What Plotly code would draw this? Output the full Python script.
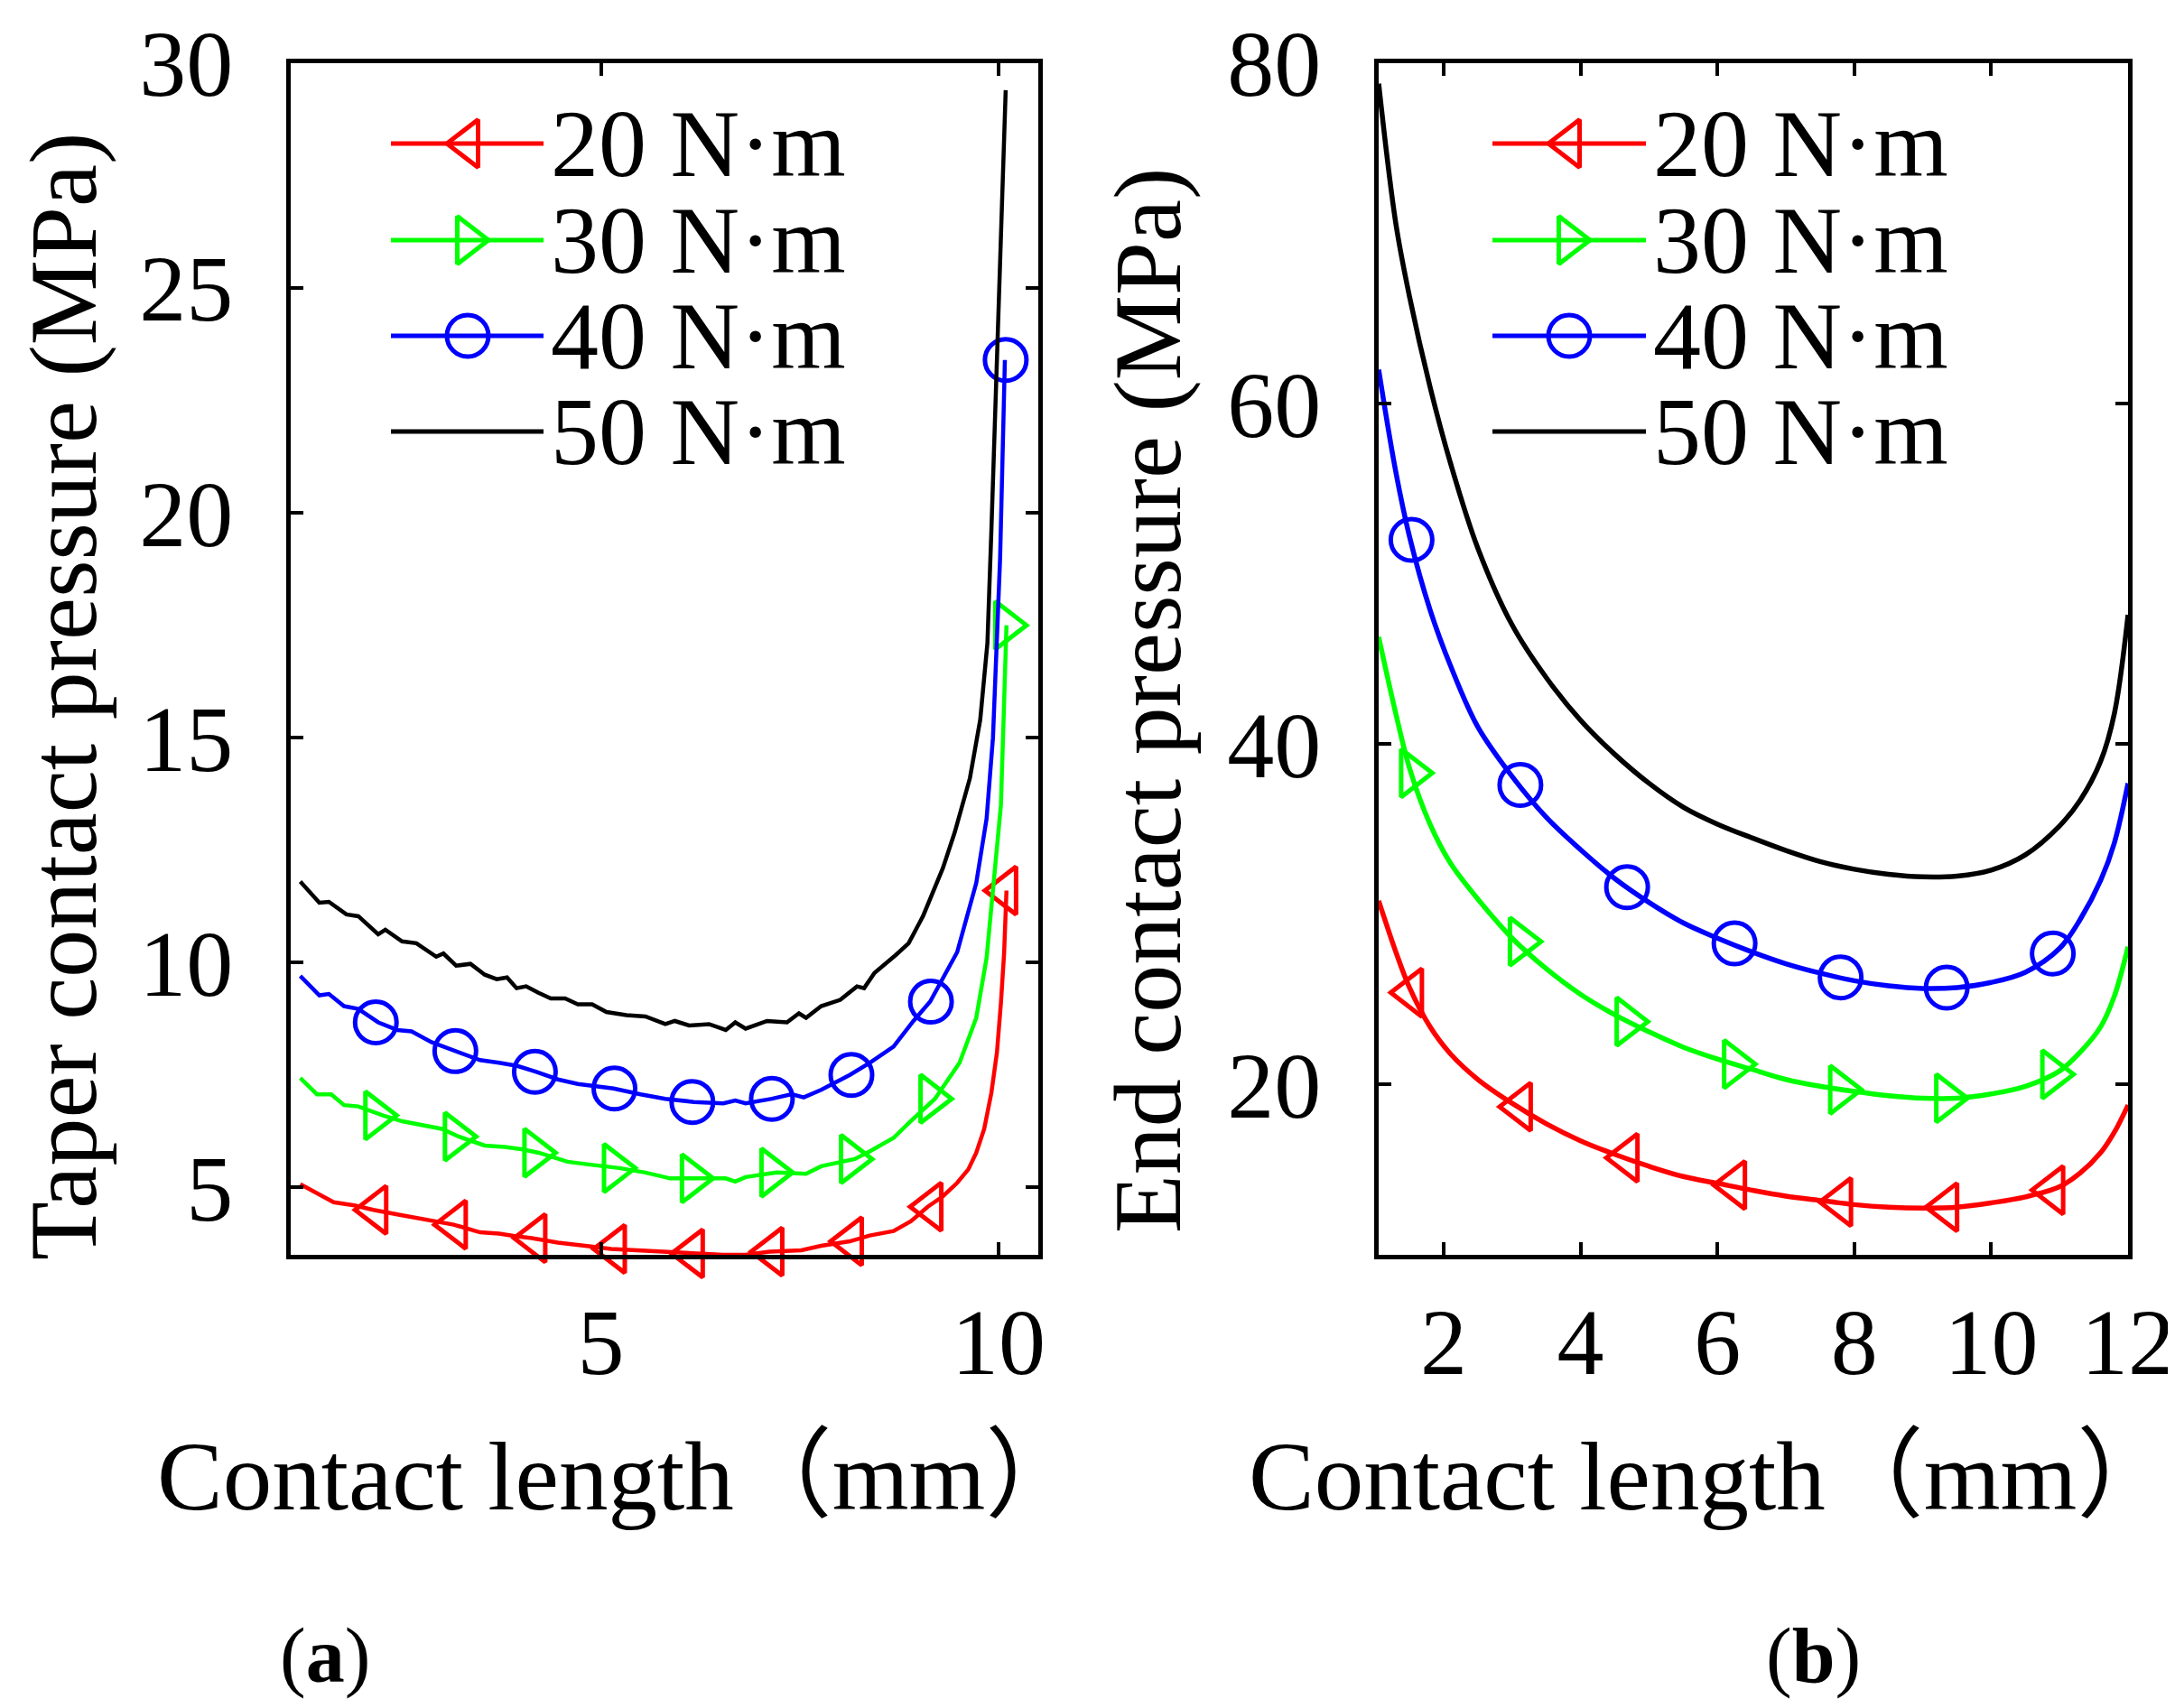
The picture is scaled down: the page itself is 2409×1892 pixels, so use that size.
import plotly.graph_objects as go

W, H = 2409, 1892
FONT = "Liberation Serif, Times New Roman, Noto Sans CJK SC, serif"

# ---- (a) taper contact pressure vs contact length ----
taper_x_20 = [1.22, 1.43, 1.64, 1.9, 2.14, 2.44, 2.74, 2.95, 3.15, 3.48, 3.72, 3.9, 4.13, 4.46,
              4.71, 4.9, 5.13, 5.5, 5.81, 6.11, 6.54, 6.82, 7.12, 7.52, 7.77, 8.13, 8.38, 8.68,
              8.9, 9.11, 9.3, 9.48, 9.62, 9.72, 9.82, 9.91, 9.98, 10.03, 10.07, 10.1]
taper_y_20 = [5.07, 4.87, 4.67, 4.6, 4.5, 4.4, 4.3, 4.25, 4.17, 4.0, 3.97, 3.92, 3.87, 3.77,
              3.73, 3.68, 3.63, 3.6, 3.57, 3.53, 3.5, 3.5, 3.57, 3.6, 3.7, 3.8, 3.93, 4.03,
              4.25, 4.57, 4.8, 5.1, 5.4, 5.77, 6.3, 7.1, 8.0, 9.1, 10.2, 11.6]

taper_x_30 = [1.22, 1.43, 1.61, 1.77, 1.95, 2.26, 2.5, 2.81, 3.0, 3.21, 3.54, 3.79, 4.0, 4.22,
              4.58, 4.89, 5.23, 5.56, 5.87, 6.23, 6.57, 6.69, 6.82, 7.21, 7.58, 7.77, 8.19,
              8.38, 8.68, 8.87, 9.2, 9.51, 9.72, 9.85, 9.97, 10.03, 10.06, 10.1]
taper_y_30 = [7.43, 7.07, 7.07, 6.83, 6.8, 6.6, 6.47, 6.37, 6.3, 6.13, 5.93, 5.9, 5.85, 5.77,
              5.57, 5.5, 5.43, 5.33, 5.2, 5.2, 5.2, 5.13, 5.23, 5.33, 5.3, 5.47, 5.63,
              5.8, 6.1, 6.43, 6.97, 7.77, 8.77, 10.1, 12.4, 13.5, 15.2, 17.5]

taper_x_40 = [1.22, 1.46, 1.58, 1.77, 1.95, 2.2, 2.44, 2.62, 2.87, 3.18, 3.48, 3.72, 3.95,
              4.19, 4.46, 4.71, 5.16, 5.5, 5.81, 6.17, 6.54, 6.69, 6.82, 7.15, 7.4, 7.55,
              7.77, 8.13, 8.38, 8.68, 8.93, 9.14, 9.48, 9.72, 9.85, 9.93, 10.02, 10.08]
taper_y_40 = [9.7, 9.27, 9.3, 9.03, 8.97, 8.67, 8.5, 8.47, 8.23, 8.03, 7.83, 7.77, 7.7,
              7.57, 7.4, 7.3, 7.2, 7.07, 6.97, 6.9, 6.87, 6.93, 6.87, 6.97, 7.07, 7.0,
              7.17, 7.5, 7.77, 8.13, 8.7, 9.13, 10.23, 11.77, 13.2, 15.0, 19.0, 23.4]

taper_x_50 = [1.22, 1.46, 1.58, 1.8, 1.95, 2.2, 2.29, 2.5, 2.68, 2.93, 3.02, 3.18, 3.36, 3.54,
              3.69, 3.82, 3.94, 4.06, 4.21, 4.37, 4.55, 4.71, 4.89, 5.07, 5.32, 5.56, 5.81,
              5.93, 6.11, 6.36, 6.57, 6.69, 6.82, 7.09, 7.34, 7.49, 7.58, 7.77, 8.01, 8.22,
              8.31, 8.44, 8.71, 8.87, 9.05, 9.3, 9.45, 9.64, 9.77, 9.86, 9.91, 9.96, 10.03, 10.09]
taper_y_50 = [11.8, 11.33, 11.35, 11.07, 11.03, 10.63, 10.73, 10.47, 10.43, 10.13, 10.2, 9.93,
              9.97, 9.73, 9.63, 9.67, 9.43, 9.47, 9.33, 9.2, 9.2, 9.07, 9.07, 8.9, 8.83, 8.8,
              8.63, 8.7, 8.6, 8.63, 8.5, 8.67, 8.53, 8.7, 8.67, 8.87, 8.77, 9.03, 9.17, 9.47,
              9.43, 9.77, 10.17, 10.43, 11.03, 12.1, 12.9, 14.1, 15.4, 17.1, 19.6, 22.2, 26.0, 29.4]

taper_mark_x = [2.17, 3.17, 4.17, 5.17, 6.15, 7.15, 8.15, 9.15, 10.09]
taper_mark_20 = [4.5, 4.17, 3.87, 3.63, 3.53, 3.57, 3.8, 4.57, 11.6]
taper_mark_30 = [6.6, 6.13, 5.77, 5.43, 5.2, 5.33, 5.63, 6.97, 17.5]
taper_mark_40 = [8.67, 8.03, 7.57, 7.2, 6.9, 6.97, 7.5, 9.13, 23.4]

# ---- (b) end contact pressure vs contact length ----
end_x = [1.05, 1.3, 1.5, 1.8, 2.1, 2.5, 3.0, 3.5, 4.0, 4.5, 5.0, 5.5, 6.0, 6.5, 7.0, 7.5,
         8.0, 8.5, 9.0, 9.5, 10.0, 10.5, 11.0, 11.3, 11.6, 11.8, 12.0]
end_20 = [30.8, 27.8, 25.7, 23.4, 21.8, 20.3, 18.9, 17.7, 16.7, 15.9, 15.2, 14.6, 14.2, 13.8,
          13.45, 13.2, 12.95, 12.8, 12.75, 12.8, 13.05, 13.4, 14.0, 14.8, 16.0, 17.2, 18.8]
end_30 = [46.3, 41.8, 38.6, 35.3, 33.0, 30.9, 28.6, 26.8, 25.3, 24.1, 23.1, 22.2, 21.5, 20.9,
          20.3, 19.9, 19.6, 19.35, 19.2, 19.2, 19.45, 19.9, 20.8, 21.9, 23.4, 25.2, 28.1]
end_40 = [62.0, 56.0, 52.2, 47.9, 44.6, 41.0, 38.1, 35.7, 33.8, 32.1, 30.7, 29.5, 28.6, 27.8,
          27.1, 26.55, 26.1, 25.8, 25.65, 25.7, 26.0, 26.6, 28.0, 29.7, 32.0, 34.2, 37.7]
end_50 = [78.8, 70.6, 66.3, 61.0, 56.5, 51.5, 47.0, 43.9, 41.4, 39.4, 37.7, 36.3, 35.3, 34.5,
          33.75, 33.1, 32.65, 32.35, 32.2, 32.25, 32.6, 33.5, 35.2, 36.7, 39.0, 41.8, 47.6]

end_mark_x = [1.53, 3.12, 4.68, 6.25, 7.8, 9.35, 10.9]
end_mark_20 = [25.4, 18.7, 15.7, 14.1, 13.1, 12.8, 13.8]
end_mark_30 = [38.3, 28.4, 23.7, 21.2, 19.7, 19.2, 20.6]
end_mark_40 = [52.0, 37.6, 31.6, 28.3, 26.3, 25.7, 27.7]

names = ["20 N·m", "30 N·m", "40 N·m", "50 N·m"]
colors = ["#ff0000", "#00ff00", "#0000ff", "#000000"]
symbols = ["triangle-left-open", "triangle-right-open", "circle-open", None]

MSIZE = 46
MLINE = 5

fig = go.Figure()


def add_series(xa, ya, x, y, mx, my, color, symbol, width, shape="linear"):
    fig.add_trace(go.Scatter(x=x, y=y, mode="lines", xaxis=xa, yaxis=ya,
                             line=dict(color=color, width=width, shape=shape),
                             showlegend=False, hoverinfo="skip"))
    if symbol is not None:
        fig.add_trace(go.Scatter(x=mx, y=my, mode="markers", xaxis=xa, yaxis=ya,
                                 cliponaxis=False, showlegend=False, hoverinfo="skip",
                                 marker=dict(symbol=symbol, size=MSIZE, color=color,
                                             line=dict(color=color, width=MLINE))))


taper = [(taper_x_20, taper_y_20, taper_mark_20), (taper_x_30, taper_y_30, taper_mark_30),
         (taper_x_40, taper_y_40, taper_mark_40), (taper_x_50, taper_y_50, None)]
for (x, y, my), c, s in zip(taper, colors, symbols):
    add_series("x", "y", x, y, taper_mark_x, my, c, s, 4.5)

ends = [(end_20, end_mark_20), (end_30, end_mark_30), (end_40, end_mark_40), (end_50, None)]
for (y, my), c, s in zip(ends, colors, symbols):
    add_series("x2", "y2", end_x, y, end_mark_x, my, c, s, 5.5, shape="spline")

# legends drawn by hand (long MATLAB-style sample lines)
legend_rows = [151, 258, 364, 470]
for x0, x1, xm, xt in [(425, 594, 510, 600), (1645, 1815, 1730, 1821)]:
    for row, name, c, s in zip(legend_rows, names, colors, symbols):
        yy = 1 - row / H
        fig.add_trace(go.Scatter(x=[x0 / W, x1 / W], y=[yy, yy], mode="lines", xaxis="x3", yaxis="y3",
                                 line=dict(color=c, width=5), showlegend=False, hoverinfo="skip"))
        if s is not None:
            fig.add_trace(go.Scatter(x=[xm / W], y=[yy], mode="markers", xaxis="x3", yaxis="y3",
                                     showlegend=False, hoverinfo="skip",
                                     marker=dict(symbol=s, size=MSIZE, color=c,
                                                 line=dict(color=c, width=MLINE))))
        fig.add_annotation(x=xt / W, y=yy, xref="paper", yref="paper", text=name,
                           showarrow=False, xanchor="left", yanchor="middle", height=100,
                           font=dict(family=FONT, size=106, color="black"))

axis_common = dict(showline=True, linecolor="black", linewidth=5, mirror="ticks",
                   ticks="inside", ticklen=14, tickwidth=4, tickcolor="black",
                   showgrid=False, zeroline=False, automargin=False,
                   tickfont=dict(family=FONT, size=104, color="black"))
ydom = [1 - 1382 / H, 1 - 62 / H]

fig.update_layout(
    width=W, height=H,
    margin=dict(l=0, r=0, t=0, b=0, pad=0, autoexpand=False),
    paper_bgcolor="white", plot_bgcolor="rgba(0,0,0,0)",
    showlegend=False,
    xaxis=dict(domain=[314 / W, 1142 / W], range=[1.1, 10.5], tickvals=[5, 10],
               anchor="y", ticklabelstandoff=2, **axis_common),
    yaxis=dict(domain=ydom, range=[3.5, 30], tickvals=[5, 10, 15, 20, 25, 30],
               anchor="x", ticklabelstandoff=38, **axis_common),
    xaxis2=dict(domain=[1519 / W, 2349 / W], range=[1.05, 12], tickvals=[2, 4, 6, 8, 10, 12],
                anchor="y2", ticklabelstandoff=2, **axis_common),
    yaxis2=dict(domain=ydom, range=[10, 80], tickvals=[20, 40, 60, 80],
                anchor="x2", ticklabelstandoff=38, **axis_common),
    xaxis3=dict(domain=[0, 1], range=[0, 1], visible=False, anchor="y3", fixedrange=True,
                automargin=False),
    yaxis3=dict(domain=[0, 1], range=[0, 1], visible=False, anchor="x3", fixedrange=True,
                automargin=False),
)

texts = [
    ("Taper contact pressure (MPa)", 62, 764, -90, 106),
    ("End contact pressure (MPa)", 1264, 768, -90, 106),
    ("Contact length（mm）", 679, 1627, 0, 109),
    ("Contact length（mm）", 1888, 1627, 0, 109),
]
for t, px, py, ang, fs in texts:
    fig.add_annotation(x=px / W, y=1 - py / H, xref="paper", yref="paper", text=t,
                       showarrow=False, textangle=ang, xanchor="center", yanchor="middle",
                       font=dict(family=FONT, size=fs, color="black"))

for t, px in [("(<b>a</b>)", 352), ("(<b>b</b>)", 2000)]:
    fig.add_annotation(x=px / W, y=1 - 1826 / H, xref="paper", yref="paper", text=t,
                       showarrow=False, xanchor="center", yanchor="middle",
                       font=dict(family=FONT, size=86, color="black"))

fig.write_html("out.html")
